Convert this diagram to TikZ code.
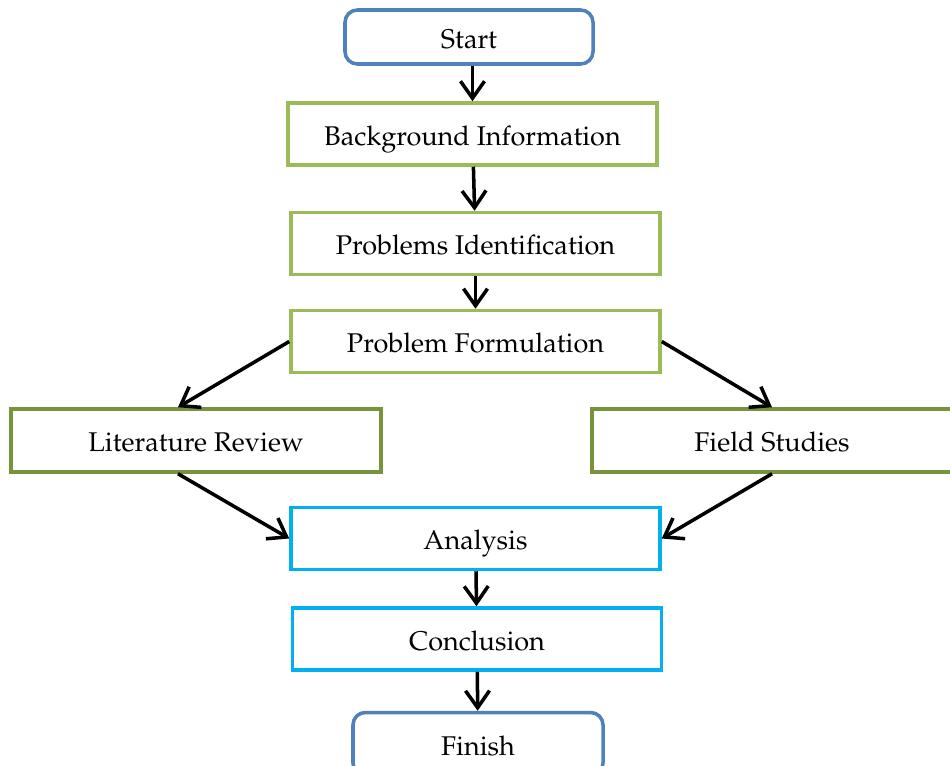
\documentclass[tikz,border=0pt]{standalone}
\usepackage[T1]{fontenc}
\usepackage{mathpazo}
\usetikzlibrary{arrows.meta}
\definecolor{termblue}{HTML}{4F81BD}
\definecolor{lightgreen}{HTML}{9BBB59}
\definecolor{olivegreen}{HTML}{77933C}
\definecolor{skyblue}{HTML}{00B0F0}

\begin{document}
\begin{tikzpicture}[every node/.style={align=center, font=\fontsize{15.4}{18}\selectfont, text height=1.3em, text depth=0pt},
  terminal/.style={draw=termblue, line width=2pt, rounded corners=7pt, fill=white, minimum width=4.96cm, minimum height=1.08cm},
  stepbox/.style={draw=lightgreen, line width=2pt, fill=white, minimum width=7.38cm, minimum height=1.24cm},
  branch/.style={draw=olivegreen, line width=2pt, fill=white, minimum width=7.4cm, minimum height=1.26cm},
  result/.style={draw=skyblue, line width=2pt, fill=white, minimum width=7.38cm, minimum height=1.24cm},
  flow/.style={-{Straight Barb[length=3.4mm, width=4.8mm]}, line width=2pt, black}]
\useasboundingbox (0,0) rectangle (19,-15.3);

% Start and main steps
\node[terminal] (start) at (9.38,-0.74) {Start};
\node[stepbox] (background) at (9.45,-2.68) {Background Information};
\node[stepbox] (problems) at (9.51,-4.87) {Problems Identification};
\node[stepbox] (formulation) at (9.51,-6.83) {Problem Formulation};

% Two branches
\node[branch] (literature) at (3.92,-8.81) {Literature Review};
\node[branch, minimum width=7.2cm] (field) at (15.44,-8.81) {Field Studies};

% Results
\node[result] (analysis) at (9.51,-10.77) {Analysis};
\node[result] (conclusion) at (9.54,-12.78) {Conclusion};
\node[terminal, minimum width=5cm, minimum height=1.26cm] (finish) at (9.56,-14.88) {Finish};

% Arrows
\draw[flow] (background.north |- start.south) -- (background.north);
\draw[flow] (background) -- (problems);
\draw[flow] (problems) -- (formulation);
\draw[flow] (formulation.west) -- ([xshift=-0.36cm]literature.north);
\draw[flow] (formulation.east) -- (field.north);
\draw[flow] ([xshift=-0.36cm]literature.south) -- (analysis.west);
\draw[flow] (field.south) -- (analysis.east);
\draw[flow] (analysis) -- (conclusion);
\draw[flow] (conclusion) -- (finish);
\end{tikzpicture}
\end{document}
